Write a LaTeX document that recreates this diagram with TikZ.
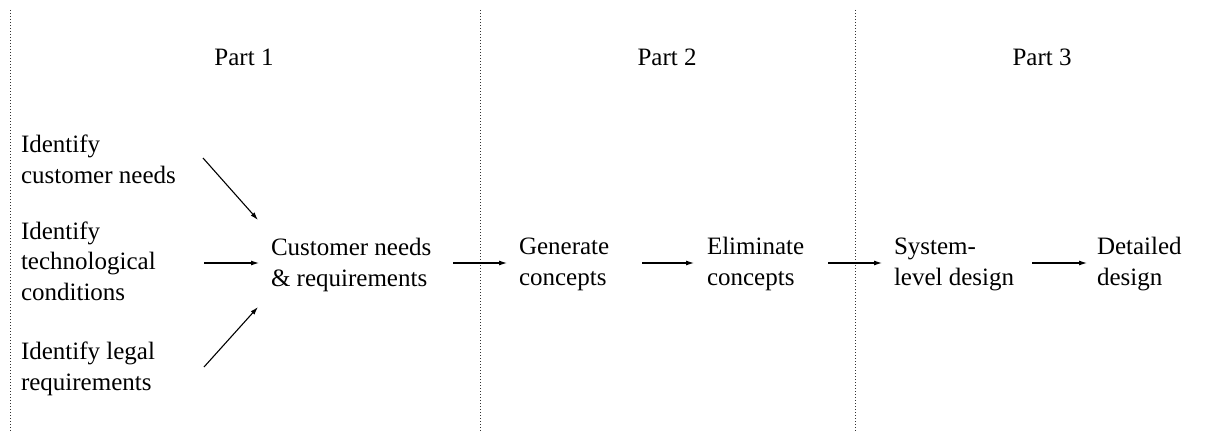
\documentclass[tikz,border=0pt]{standalone}
\usepackage{fontspec}
\setmainfont{Liberation Serif}
\usetikzlibrary{arrows.meta,calc}
\begin{document}
\begin{tikzpicture}[x=1pt,y=-1pt,
  every node/.style={inner sep=0pt,outer sep=0pt,font=\fontsize{25}{30.5}\selectfont},
  txt/.style={anchor=base west,align=left},
  parttxt/.style={anchor=base},
  divider/.style={line width=1pt,dash pattern=on 1pt off 2pt,black!80},
  flow/.style={line width=1.1pt,-{Latex[length=8pt,width=5pt]}}]
\useasboundingbox (0,0) rectangle (1206,436);
% dividers
\coordinate (d1t) at (10,10);  \coordinate (d1b) at (10,432);
\coordinate (d2t) at (480,10); \coordinate (d2b) at (480,432);
\coordinate (d3t) at (855,10); \coordinate (d3b) at (855,432);
\draw[divider] (d1t) -- (d1b);
\draw[divider] (d2t) -- (d2b);
\draw[divider] (d3t) -- (d3b);
% part labels
\node[parttxt] (p1) at (244,65) {Part 1};
\node[parttxt] (p2) at (667,65) {Part 2};
\node[parttxt] (p3) at (1042,65) {Part 3};
% nodes (base = baseline of last line)
\node[txt] (icn) at (21,183) {Identify\\customer needs};
\node[txt] (itc) at (21,300) {Identify\\technological\\conditions};
\node[txt] (ilr) at (21,390) {Identify legal\\requirements};
\node[txt] (cnr) at (271,286) {Customer needs\\\& requirements};
\node[txt] (gc) at (519,285) {Generate\\concepts};
\node[txt] (ec) at (707,285) {Eliminate\\concepts};
\node[txt] (sld) at (894,285) {System-\\level design};
\node[txt] (dd) at (1097,285) {Detailed\\design};
% arrow end points
\coordinate (a1s) at ($(icn.base west)+(182,-25)$);
\coordinate (a1e) at ($(cnr.base west)+(-13,-66)$);
\coordinate (a2s) at ($(itc.base west)+(183,-37)$);
\coordinate (a2e) at ($(cnr.base west)+(-12,-23)$);
\coordinate (a3s) at ($(ilr.base west)+(183,-23)$);
\coordinate (a3e) at ($(cnr.base west)+(-13,21)$);
\draw[flow] (a1s) -- (a1e);
\draw[flow] (a2s) -- (a2e);
\draw[flow] (a3s) -- (a3e);
\draw[flow] ($(cnr.base west)+(182,-23)$) -- ($(gc.base west)+(-12,-22)$);
\draw[flow] ($(gc.base west)+(123,-22)$) -- ($(ec.base west)+(-13,-22)$);
\draw[flow] ($(ec.base west)+(121,-22)$) -- ($(sld.base west)+(-12,-22)$);
\draw[flow] ($(sld.base west)+(138,-22)$) -- ($(dd.base west)+(-10,-22)$);
\end{tikzpicture}
\end{document}
